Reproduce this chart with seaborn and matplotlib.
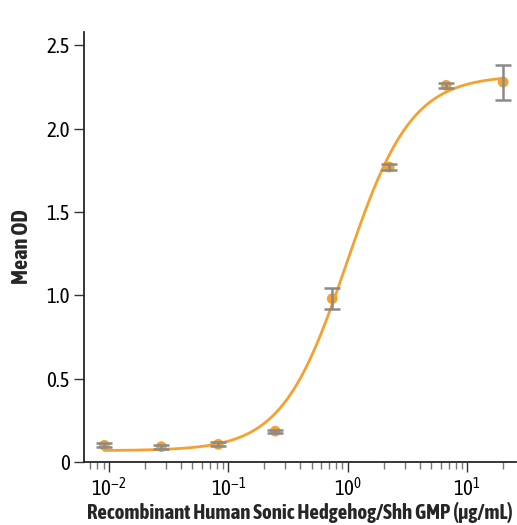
import numpy
import pandas
import seaborn as sea
from matplotlib import pyplot, font_manager
from matplotlib.ticker import LogLocator, FixedLocator

# measured points (ug/mL, mean OD, sd)
conc = [0.00914, 0.0274, 0.0823, 0.247, 0.741, 2.22, 6.67, 20.0]
mean_od = [0.10, 0.092, 0.106, 0.185, 0.98, 1.77, 2.26, 2.28]
sd_od = [0.012, 0.012, 0.012, 0.01, 0.063, 0.016, 0.014, 0.105]

# 4PL fit parameters
fit_bottom = 0.068
fit_top = 2.32
fit_ec50 = 0.98
fit_hill = 1.6

ORANGE = "#F4A130"
GREY = "#8A8A8A"


def weight_of(f):
    w = f.weight
    if isinstance(w, str):
        w = font_manager.weight_dict.get(w, 400)
    return w


def is_narrow(f):
    return ("Narrow" in f.name or "Condensed" in f.name
            or f.stretch in ("condensed", "semi-condensed", "extra-condensed"))


# pick a condensed family that has upright regular and upright bold faces
fonts = [f for f in font_manager.fontManager.ttflist
         if is_narrow(f) and f.style == "normal"]
bold_names = {f.name for f in fonts if weight_of(f) >= 700}
reg_names = {f.name for f in fonts if 350 <= weight_of(f) <= 500}
both = sorted(bold_names & reg_names)
family = (both or ["DejaVu Sans"])[0]

sea.set_style("ticks")
pyplot.rcParams["font.family"] = [family, "DejaVu Sans"]
pyplot.rcParams["font.stretch"] = "condensed"
pyplot.rcParams["font.style"] = "normal"
pyplot.rcParams["mathtext.fontset"] = "custom"
pyplot.rcParams["mathtext.rm"] = family + ":stretch=condensed"

points = pandas.DataFrame({"conc": conc, "od": mean_od, "sd": sd_od})

xs = numpy.logspace(numpy.log10(conc[0]), numpy.log10(conc[-1]), 300)
curve = pandas.DataFrame({
    "conc": xs,
    "od": fit_bottom + (fit_top - fit_bottom) / (1 + (fit_ec50 / xs) ** fit_hill),
})

figure = pyplot.figure(figsize=(5.17, 5.25), dpi=100)
axis = figure.add_axes([0.1625, 0.12, 0.835, 0.819])

sea.lineplot(data=curve, x="conc", y="od", ax=axis, color=ORANGE, linewidth=2)
sea.scatterplot(data=points, x="conc", y="od", ax=axis, color=ORANGE,
                s=60, edgecolor="none", zorder=3)
axis.errorbar(points["conc"], points["od"], yerr=points["sd"], fmt="none",
              ecolor=GREY, elinewidth=1.8, capsize=6, capthick=1.8, zorder=4)

axis.set_xscale("log")
axis.set_xlim(0.00618, 25.5)
axis.set_ylim(0, 2.58)
axis.yaxis.set_major_locator(FixedLocator([0, 0.5, 1.0, 1.5, 2.0, 2.5]))
axis.set_yticklabels(["0", "0.5", "1.0", "1.5", "2.0", "2.5"])
axis.xaxis.set_major_locator(LogLocator(base=10, numticks=10))
axis.xaxis.set_minor_locator(LogLocator(base=10, subs=numpy.arange(2, 10), numticks=10))

axis.tick_params(axis="both", which="major", labelsize=15, width=1,
                 color="#333333", labelcolor="black")
axis.tick_params(axis="y", which="major", length=7, pad=3)
axis.tick_params(axis="x", which="major", length=7, pad=4)
axis.tick_params(axis="x", which="minor", length=5, width=1, color="#777777")

for side in ["top", "right"]:
    axis.spines[side].set_visible(False)
for side in ["left", "bottom"]:
    axis.spines[side].set_linewidth(1.3)

axis.set_xlabel("Recombinant Human Sonic Hedgehog/Shh GMP (\u03bcg/mL)",
                fontsize=15, fontweight="bold", labelpad=1)
axis.set_ylabel("Mean OD", fontsize=16, fontweight="bold", labelpad=10)

figure.savefig("out.png", dpi=100)
